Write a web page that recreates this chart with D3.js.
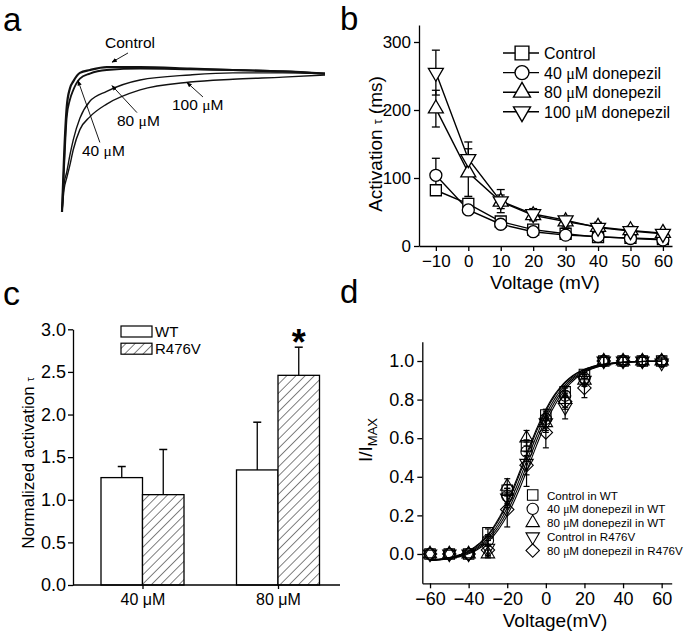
<!DOCTYPE html>
<html><head><meta charset="utf-8">
<script src="https://cdn.jsdelivr.net/npm/d3@7"></script>
<style>body{margin:0;background:#fff} svg{display:block}</style>
</head><body><svg id="fig" width="685" height="635"></svg>
<script>
// ---------- Panel a : current traces (time in ms, normalized current) ----------
const traceTime = [0, 8, 18, 30, 43, 68, 106, 170, 297, 487, 650, 840, 1000];
const traceControl = [0, 0.40, 0.74, 0.87, 0.92, 0.98, 1.0, 1.02, 1.02, 1.01, 1.0, 0.99, 0.975];
const trace40 = [0, 0.32, 0.67, 0.79, 0.86, 0.94, 0.975, 1.0, 1.01, 1.005, 1.0, 0.99, 0.975];
const trace80 = [0, 0.20, 0.28, 0.40, 0.51, 0.66, 0.78, 0.85, 0.93, 0.965, 0.98, 0.98, 0.975];
const trace100 = [0, 0.16, 0.24, 0.33, 0.44, 0.58, 0.67, 0.76, 0.86, 0.915, 0.935, 0.95, 0.965];
const traceLabels = ["Control", "40 μM", "80 μM", "100 μM"];

// ---------- Panel b : activation tau vs voltage ----------
const bVolt = [-10, 0, 10, 20, 30, 40, 50, 60];
const bControl = [82, 62, 36, 24, 18, 13, 12, 10];
const bControlErr = [6, 8, 5, 4, 3, 2, 2, 2];
const b40 = [104, 53, 32, 21, 16, 14, 11, 9];
const b40Err = [25, 5, 4, 4, 3, 2, 2, 2];
const b80 = [202, 108, 65, 45, 36, 28, 23, 19];
const b80Err = [27, 35, 10, 8, 8, 7, 6, 5];
const b100 = [255, 128, 66, 47, 38, 27, 22, 18];
const b100Err = [33, 25, 17, 8, 6, 5, 4, 4];
const bLegend = ["Control", "40 μM donepezil", "80 μM donepezil", "100 μM donepezil"];
const bYTicks = [0, 100, 200, 300];
const bXTicks = [-10, 0, 10, 20, 30, 40, 50, 60];

// ---------- Panel c : normalized activation tau ----------
const cGroups = ["40 μM", "80 μM"];
const cSeries = ["WT", "R476V"];
const cWT = [1.26, 1.35];
const cWTErr = [0.13, 0.56];
const cR476V = [1.06, 2.46];
const cR476VErr = [0.53, 0.33];
const cYTicks = [0.0, 0.5, 1.0, 1.5, 2.0, 2.5, 3.0];

// ---------- Panel d : I/Imax activation curves ----------
const dVolt = [-60, -50, -40, -30, -20, -10, 0, 10, 20, 30, 40, 50, 60];
const dCtrlWT = [0, 0, 0, 0.11, 0.33, 0.56, 0.72, 0.84, 0.93, 1, 1, 1, 1];
const dCtrlWTErr = [0, 0, 0, 0.02, 0.03, 0.03, 0.03, 0.03, 0.02, 0, 0, 0, 0];
const d40WT = [0, 0, 0, 0.07, 0.30, 0.53, 0.70, 0.82, 0.91, 1, 1, 1, 1];
const d40WTErr = [0, 0, 0, 0.03, 0.04, 0.05, 0.04, 0.04, 0.03, 0, 0, 0, 0];
const d80WT = [0, 0, 0, 0.00, 0.35, 0.60, 0.68, 0.80, 0.90, 1, 1, 1, 1];
const d80WTErr = [0, 0, 0, 0.02, 0.04, 0.04, 0.04, 0.04, 0.03, 0, 0, 0, 0];
const dCtrlR = [0, 0, 0, 0.03, 0.29, 0.47, 0.68, 0.76, 0.90, 1, 1, 1, 0.99];
const dCtrlRErr = [0, 0, 0, 0.04, 0.05, 0.12, 0.05, 0.06, 0.03, 0.02, 0.02, 0.02, 0.02];
const d80R = [0, 0, 0, 0.02, 0.23, 0.46, 0.63, 0.79, 0.86, 1, 1, 1, 1];
const d80RErr = [0, 0, 0, 0.03, 0.09, 0.05, 0.08, 0.04, 0.05, 0.02, 0.02, 0.02, 0.02];
const dLegend = ["Control in WT", "40 μM donepezil in WT", "80 μM donepezil in WT", "Control in R476V", "80 μM donepezil in R476V"];
// Boltzmann fit parameters (V1/2, slope) for each series
const dFitVhalf = [-11, -10, -11.5, -9, -8];
const dFitSlope = [10, 10, 10, 10, 10];
const dFitBottom = [-0.04, -0.04, -0.04, -0.04, -0.04];
const dFitTop = [1.0, 1.0, 1.0, 1.0, 1.0];
const dYTicks = [0.0, 0.2, 0.4, 0.6, 0.8, 1.0];
const dXTicks = [-60, -40, -20, 0, 20, 40, 60];

// ===================================================================
const FONT = "'Liberation Sans', Arial, sans-serif";
const SERIF = "'Liberation Serif', 'Times New Roman', serif";
const svg = d3.select("#fig").attr("font-family", FONT);

function styleAxis(g, fs) {
  g.attr("font-family", FONT).attr("font-size", fs);
  g.selectAll("path.domain").attr("stroke", "#000").attr("stroke-width", 1.3);
  g.selectAll(".tick line").attr("stroke", "#000").attr("stroke-width", 1.3);
  g.selectAll(".tick text").attr("fill", "#000");
}
function muText(sel, str, muFamily) {
  const parts = str.split("μ");
  parts.forEach((p, i) => {
    if (i > 0) sel.append("tspan").attr("font-family", muFamily).text("μ");
    if (p) sel.append("tspan").text(p);
  });
  return sel;
}
function symPath(type, size) {
  const map = {square: d3.symbolSquare, circle: d3.symbolCircle, up: d3.symbolTriangle,
               down: d3.symbolTriangle, diamond: d3.symbolSquare};
  return d3.symbol(map[type], size)();
}
function symTransform(type, x, y) {
  if (type === "down") return `translate(${x},${y}) rotate(180)`;
  if (type === "diamond") return `translate(${x},${y}) rotate(45)`;
  return `translate(${x},${y})`;
}

// defs: arrow + hatch
const defs = svg.append("defs");
defs.append("marker").attr("id", "arr").attr("viewBox", "0 0 10 10").attr("refX", 9).attr("refY", 5)
  .attr("markerWidth", 6).attr("markerHeight", 6).attr("orient", "auto")
  .append("path").attr("d", "M0,1 L10,5 L0,9 z").attr("fill", "#000");
const hatch = defs.append("pattern").attr("id", "hatch").attr("patternUnits", "userSpaceOnUse")
  .attr("width", 6.5).attr("height", 6.5).attr("patternTransform", "rotate(45)");
hatch.append("rect").attr("width", 6.5).attr("height", 6.5).attr("fill", "#fff");
hatch.append("line").attr("x1", 0).attr("y1", 0).attr("x2", 0).attr("y2", 6.5)
  .attr("stroke", "#000").attr("stroke-width", 1);

// panel letters
[["a", 3, 31, 33], ["b", 340, 30, 33], ["c", 3, 305, 34], ["d", 340, 303, 33]].forEach(([t, x, y, fs]) =>
  svg.append("text").attr("x", x).attr("y", y).attr("font-size", fs).attr("fill", "#000").text(t));

// ===================== Panel a =====================
{
  const g = svg.append("g");
  const xa = d3.scaleLinear().domain([0, 1000]).range([62, 325]);
  const ya = d3.scaleLinear().domain([0, 1]).range([212, 70]);
  const line = d3.line().x((d, i) => xa(traceTime[i])).y(d => ya(d)).curve(d3.curveMonotoneX);
  const traces = [trace100, trace80, trace40, traceControl];
  const widths = [1.4, 1.4, 1.8, 2.2];
  traces.forEach((tr, k) => g.append("path").attr("d", line(tr)).attr("fill", "none")
    .attr("stroke", "#111").attr("stroke-width", widths[k]));
  // annotations: [label, text x, text y, tail(t,I), tip(t,I)]
  const ann = [
    [traceLabels[0], 105, 48, [251, 1.12], [190, 1.055]],
    [traceLabels[1], 82, 156, [144, 0.49], [61, 0.925]],
    [traceLabels[2], 117, 126, [285, 0.70], [190, 0.89]],
    [traceLabels[3], 172, 110, [536, 0.81], [475, 0.912]]
  ];
  ann.forEach(([lab, tx, ty, tail, tip]) => {
    muText(g.append("text").attr("x", tx).attr("y", ty).attr("font-size", 15.5).attr("fill", "#000"), lab, SERIF);
    g.append("line").attr("x1", xa(tail[0])).attr("y1", ya(tail[1])).attr("x2", xa(tip[0])).attr("y2", ya(tip[1]))
      .attr("stroke", "#000").attr("stroke-width", 0.9).attr("marker-end", "url(#arr)");
  });
}

// ===================== Panel b =====================
{
  const g = svg.append("g");
  const x = d3.scaleLinear().domain([-15.2, 62.8]).range([419, 672]);
  const y = d3.scaleLinear().domain([0, 325]).range([246, 25]);
  const ax = g.append("g").attr("transform", "translate(0,246)")
    .call(d3.axisBottom(x).tickValues(bXTicks).tickSize(5).tickSizeOuter(0).tickPadding(4));
  styleAxis(ax, 17);
  const ay = g.append("g").attr("transform", "translate(419,0)")
    .call(d3.axisLeft(y).tickValues(bYTicks).tickSize(5).tickSizeOuter(0).tickPadding(3));
  styleAxis(ay, 17);
  g.append("text").attr("x", 545).attr("y", 289).attr("text-anchor", "middle").attr("font-size", 19).text("Voltage (mV)");
  const yl = g.append("text").attr("transform", "translate(382,144) rotate(-90)").attr("text-anchor", "middle").attr("font-size", 19);
  yl.append("tspan").text("Activation ");
  yl.append("tspan").attr("font-size", 12).text("τ");
  yl.append("tspan").text(" (ms)");

  const series = [
    {v: bControl, e: bControlErr, s: "square", size: 121},
    {v: b40, e: b40Err, s: "circle", size: 113},
    {v: b80, e: b80Err, s: "up", size: 97},
    {v: b100, e: b100Err, s: "down", size: 97}
  ];
  const line = d3.line().x((d, i) => x(bVolt[i])).y(d => y(d));
  series.forEach(sr => {
    g.append("path").attr("d", line(sr.v)).attr("fill", "none").attr("stroke", "#000").attr("stroke-width", 1.4);
  });
  series.forEach(sr => {
    sr.v.forEach((v, i) => {
      const cx = x(bVolt[i]);
      g.append("line").attr("x1", cx).attr("x2", cx).attr("y1", y(v - sr.e[i])).attr("y2", y(v + sr.e[i]))
        .attr("stroke", "#000").attr("stroke-width", 1.3);
      [v - sr.e[i], v + sr.e[i]].forEach(ev => g.append("line").attr("x1", cx - 4).attr("x2", cx + 4)
        .attr("y1", y(ev)).attr("y2", y(ev)).attr("stroke", "#000").attr("stroke-width", 1.3));
    });
  });
  series.forEach(sr => {
    sr.v.forEach((v, i) => g.append("path").attr("d", symPath(sr.s, sr.size))
      .attr("transform", symTransform(sr.s, x(bVolt[i]), y(v)))
      .attr("fill", "#fff").attr("stroke", "#000").attr("stroke-width", 1.3));
  });
  // legend
  const legSizes = [190, 154, 125, 125];
  bLegend.forEach((lab, k) => {
    const ly = 53 + k * 19.6;
    g.append("line").attr("x1", 503).attr("x2", 539).attr("y1", ly).attr("y2", ly).attr("stroke", "#000").attr("stroke-width", 1.4);
    g.append("path").attr("d", symPath(series[k].s, legSizes[k])).attr("transform", symTransform(series[k].s, 522, ly))
      .attr("fill", "#fff").attr("stroke", "#000").attr("stroke-width", 1.4);
    muText(g.append("text").attr("x", 544).attr("y", ly + 6).attr("font-size", 16).attr("fill", "#000"), lab, SERIF);
  });
}

// ===================== Panel c =====================
{
  const g = svg.append("g");
  const y = d3.scaleLinear().domain([0, 3]).range([585, 329.3]);
  const x0 = d3.scalePoint().domain(cGroups).range([142.5, 278]);
  const x1 = d3.scaleBand().domain(cSeries).range([-41.5, 41.5]);
  const vals = [cWT, cR476V], errs = [cWTErr, cR476VErr];
  cSeries.forEach((s, si) => {
    cGroups.forEach((grp, gi) => {
      const bx = x0(grp) + x1(s), v = vals[si][gi], e = errs[si][gi];
      const cx = bx + x1.bandwidth() / 2;
      g.append("line").attr("x1", cx).attr("x2", cx).attr("y1", y(v)).attr("y2", y(v + e))
        .attr("stroke", "#000").attr("stroke-width", 1.3);
      g.append("line").attr("x1", cx - 4).attr("x2", cx + 4).attr("y1", y(v + e)).attr("y2", y(v + e))
        .attr("stroke", "#000").attr("stroke-width", 1.5);
      g.append("rect").attr("x", bx).attr("y", y(v)).attr("width", x1.bandwidth()).attr("height", y(0) - y(v))
        .attr("fill", si === 0 ? "#fff" : "url(#hatch)").attr("stroke", "#000").attr("stroke-width", 1.3);
    });
  });
  const ay = g.append("g").attr("transform", "translate(73,0)")
    .call(d3.axisLeft(y).tickValues(cYTicks).tickFormat(d3.format(".1f")).tickSize(5).tickSizeOuter(0).tickPadding(2));
  styleAxis(ay, 18);
  const ax = g.append("g").attr("transform", "translate(0,585)")
    .call(d3.axisBottom(x0).tickSize(4).tickPadding(5));
  styleAxis(ax, 16);
  ax.select("path.domain").remove();
  g.append("line").attr("x1", 73).attr("x2", 340).attr("y1", 585).attr("y2", 585).attr("stroke", "#000").attr("stroke-width", 1.3);
  const yl = g.append("text").attr("transform", "translate(34,463) rotate(-90)").attr("text-anchor", "middle").attr("font-size", 17);
  yl.append("tspan").text("Normalized activation ");
  yl.append("tspan").attr("font-size", 11).text("τ");
  // significance star
  g.append("text").attr("x", x0(cGroups[1]) + x1(cSeries[1]) + x1.bandwidth() / 2).attr("y", y(cR476V[1] + cR476VErr[1]) + 8)
    .attr("text-anchor", "middle").attr("font-size", 36).attr("font-weight", "bold").text("*");
  // legend
  cSeries.forEach((s, k) => {
    const ly = 326 + k * 17.2;
    g.append("rect").attr("x", 121).attr("y", ly).attr("width", 31).attr("height", 11)
      .attr("fill", k === 0 ? "#fff" : "url(#hatch)").attr("stroke", "#000").attr("stroke-width", 1.2);
    g.append("text").attr("x", 155).attr("y", ly + 11).attr("font-size", 15).text(s);
  });
}

// ===================== Panel d =====================
{
  const g = svg.append("g");
  const x = d3.scaleLinear().domain([-64, 65.2]).range([422.3, 671.7]);
  const y = d3.scaleLinear().domain([-0.152, 1.1]).range([583.3, 341.7]);
  const ax = g.append("g").attr("transform", "translate(0,583.3)")
    .call(d3.axisBottom(x).tickValues(dXTicks).tickSize(5).tickSizeOuter(0).tickPadding(4));
  styleAxis(ax, 18);
  const ay = g.append("g").attr("transform", "translate(422.3,0)")
    .call(d3.axisLeft(y).tickValues(dYTicks).tickFormat(d3.format(".1f")).tickSize(5).tickSizeOuter(0).tickPadding(3));
  styleAxis(ay, 18);
  g.append("text").attr("x", 555).attr("y", 627).attr("text-anchor", "middle").attr("font-size", 19).text("Voltage(mV)");
  const yl = g.append("text").attr("transform", "translate(372,440) rotate(-90)").attr("text-anchor", "middle").attr("font-size", 19);
  yl.append("tspan").text("I/I");
  yl.append("tspan").attr("font-size", 13).attr("dy", 5).text("MAX");

  const series = [
    {v: dCtrlWT, e: dCtrlWTErr, s: "square", size: 110},
    {v: d40WT, e: d40WTErr, s: "circle", size: 100},
    {v: d80WT, e: d80WTErr, s: "up", size: 78},
    {v: dCtrlR, e: dCtrlRErr, s: "down", size: 78},
    {v: d80R, e: d80RErr, s: "diamond", size: 90}
  ];
  series.forEach(sr => {
    sr.v.forEach((v, i) => {
      if (!sr.e[i]) return;
      const cx = x(dVolt[i]);
      g.append("line").attr("x1", cx).attr("x2", cx).attr("y1", y(v - sr.e[i])).attr("y2", y(v + sr.e[i]))
        .attr("stroke", "#000").attr("stroke-width", 1.2);
      [v - sr.e[i], v + sr.e[i]].forEach(ev => g.append("line").attr("x1", cx - 3).attr("x2", cx + 3)
        .attr("y1", y(ev)).attr("y2", y(ev)).attr("stroke", "#000").attr("stroke-width", 1.2));
    });
    sr.v.forEach((v, i) => g.append("path").attr("d", symPath(sr.s, sr.size))
      .attr("transform", symTransform(sr.s, x(dVolt[i]), y(v)))
      .attr("fill", "none").attr("stroke", "#000").attr("stroke-width", 1.1));
  });
  // fitted Boltzmann curves from fit parameters
  const vs = d3.range(-60, 60.01, 1);
  dFitVhalf.forEach((vh, k) => {
    const f = v => dFitTop[k] + (dFitBottom[k] - dFitTop[k]) / (1 + Math.exp((v - vh) / dFitSlope[k]));
    g.append("path").attr("d", d3.line().x(v => x(v)).y(v => y(f(v)))(vs))
      .attr("fill", "none").attr("stroke", "#000").attr("stroke-width", 1.1);
  });
  // legend
  dLegend.forEach((lab, k) => {
    const ly = 495 + k * 13.9;
    g.append("path").attr("d", symPath(series[k].s, series[k].size)).attr("transform", symTransform(series[k].s, 532.7, ly))
      .attr("fill", "#fff").attr("stroke", "#000").attr("stroke-width", 1.1);
    muText(g.append("text").attr("x", 547).attr("y", ly + 4.5).attr("font-size", 11.6).attr("fill", "#000"), lab, SERIF);
  });
}
</script>
</body></html>
